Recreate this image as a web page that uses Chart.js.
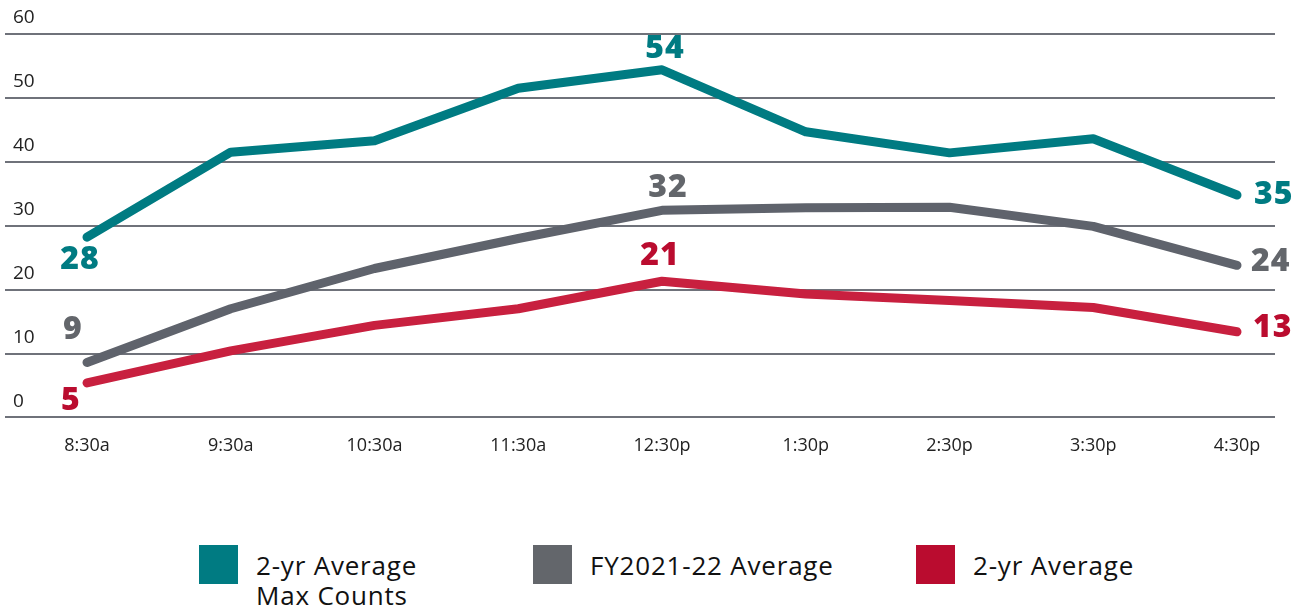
<!DOCTYPE html>
<html>
<head>
<meta charset="utf-8">
<script src="https://cdn.jsdelivr.net/npm/chart.js@4"></script>
<style>
  body { margin: 0; background: #fff; font-family: "Open Sans", sans-serif; }
  #wrap { position: relative; width: 1309px; height: 481px; }
  .legend { position: absolute; top: 545px; left: 0; width: 1309px; height: 69px; }
  .item { position: absolute; display: flex; align-items: flex-start; font-size: 26px; letter-spacing: 0.8px; color: #111; line-height: 30px; }
  .item .txt { margin-top: 5px; }
  .box { width: 39px; height: 39px; margin-right: 18px; flex: none; }
</style>
</head>
<body>
<div id="wrap"><canvas id="chart"></canvas></div>
<div class="legend" id="legend"></div>
<script>
const times = ['8:30a', '9:30a', '10:30a', '11:30a', '12:30p', '1:30p', '2:30p', '3:30p', '4:30p'];
const maxCounts = [28.2, 41.5, 43.3, 51.5, 54.4, 44.7, 41.4, 43.6, 34.8];
const fyAverage = [8.6, 17.0, 23.3, 28.0, 32.4, 32.8, 32.9, 29.9, 23.8];
const twoYrAverage = [5.4, 10.4, 14.4, 17.0, 21.3, 19.3, 18.3, 17.2, 13.4];
const seriesNames = [['2-yr Average', 'Max Counts'], ['FY2021-22 Average'], ['2-yr Average']];
const colors = ['#007b82', '#63666b', '#ba0c2f'];
const lineColors = ['#007b82', '#5f636c', '#c8203f'];

// where each end/peak label sits relative to its point
const labelSpots = [
  { 0: [-7, 23, 'center'], 4: [3, -21, 'center'], 8: [17, 0, 'left'] },
  { 0: [-14, -33, 'center'], 4: [6, -22, 'center'], 8: [14, -3, 'left'] },
  { 0: [-16, 18, 'center'], 4: [-2, -25, 'center'], 8: [16, -4, 'left'] }
];

const pointLabels = {
  id: 'pointLabels',
  afterDatasetsDraw(chart) {
    const ctx = chart.ctx;
    ctx.save();
    ctx.font = '800 32px "Open Sans", sans-serif';
    ctx.textBaseline = 'middle';
    ctx.letterSpacing = '1px';
    chart.data.datasets.forEach((ds, i) => {
      const meta = chart.getDatasetMeta(i);
      Object.keys(labelSpots[i]).forEach(k => {
        const [dx, dy, align] = labelSpots[i][k];
        const pt = meta.data[k];
        ctx.fillStyle = colors[i];
        ctx.textAlign = align;
        ctx.fillText(Math.round(ds.data[k].y), pt.x + dx, pt.y + dy);
      });
    });
    ctx.restore();
  }
};

function toPoints(arr) {
  return arr.map((v, i) => ({ x: i, y: v }));
}

new Chart(
  document.getElementById('chart'),
  {
    type: 'line',
    data: {
      datasets: [maxCounts, fyAverage, twoYrAverage].map((d, i) => ({
        label: seriesNames[i].join(' '),
        data: toPoints(d),
        borderColor: lineColors[i],
        backgroundColor: colors[i],
        borderWidth: 9,
        borderCapStyle: 'round',
        borderJoinStyle: 'round',
        pointRadius: 0,
        tension: 0
      }))
    },
    options: {
      responsive: true,
      maintainAspectRatio: false,
      animation: false,
      layout: { padding: { top: 34, left: 5, right: 34, bottom: 14 } },
      plugins: { legend: { display: false }, tooltip: { enabled: false } },
      scales: {
        x: {
          type: 'linear',
          min: -0.5704,
          max: 8.2643,
          afterBuildTicks: axis => {
            axis.ticks = times.map((t, i) => ({ value: i }));
          },
          ticks: {
            callback: v => times[v],
            font: { size: 18, family: '"Open Sans", sans-serif' },
            color: '#222',
            padding: 10,
            maxRotation: 0,
            autoSkip: false
          },
          grid: { display: false },
          border: { display: false }
        },
        y: {
          min: 0,
          max: 60,
          afterFit: axis => { axis.width = 0; },
          ticks: {
            stepSize: 10,
            mirror: true,
            padding: 8,
            labelOffset: -16,
            font: { size: 19, family: '"Open Sans", sans-serif' },
            color: '#222'
          },
          grid: { color: '#6f727a', lineWidth: 2, drawTicks: false },
          border: { display: false }
        }
      }
    },
    plugins: [pointLabels]
  }
);

const legendSpots = [199, 533, 916];
const legend = document.getElementById('legend');
seriesNames.forEach((name, i) => {
  const item = document.createElement('div');
  item.className = 'item';
  item.style.left = legendSpots[i] + 'px';
  const box = document.createElement('div');
  box.className = 'box';
  box.style.background = colors[i];
  const text = document.createElement('div');
  text.className = 'txt';
  text.innerHTML = name.join('<br>');
  item.appendChild(box);
  item.appendChild(text);
  legend.appendChild(item);
});
</script>
</body>
</html>
